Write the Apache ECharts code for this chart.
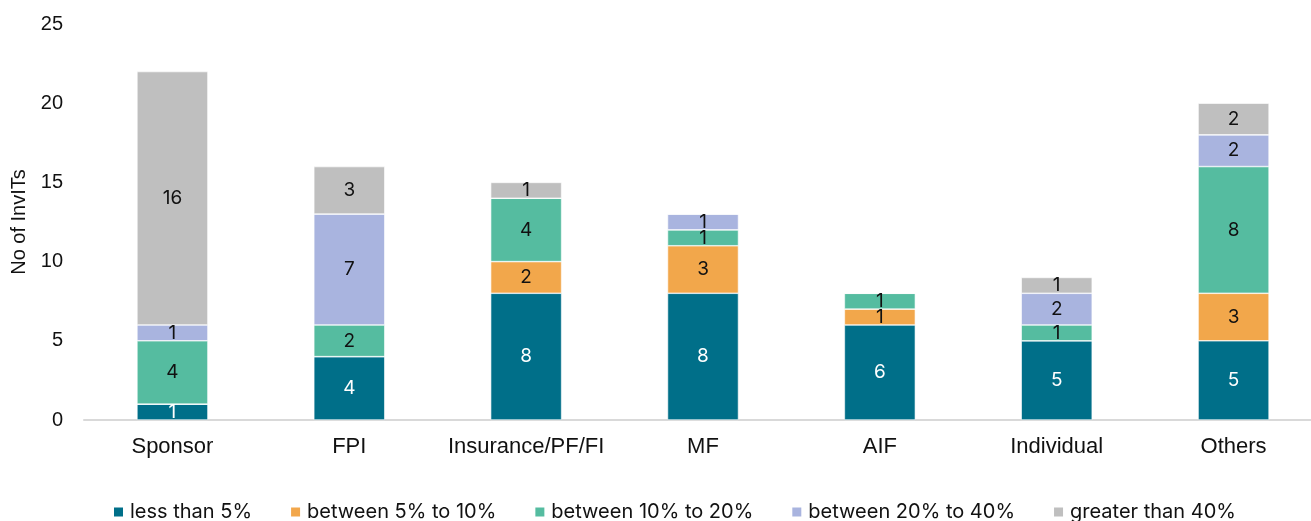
<!DOCTYPE html>
<html>
<head>
<meta charset="utf-8">
<script src="https://cdn.jsdelivr.net/npm/echarts@6/dist/echarts.min.js"></script>
<style>
  html, body { margin: 0; padding: 0; background: #fff; }
  #chart { width: 1311px; height: 521px; }
</style>
</head>
<body>
<div id="chart"></div>
<script>
// Investor categories on the x axis
const categories = ['Sponsor', 'FPI', 'Insurance/PF/FI', 'MF', 'AIF', 'Individual', 'Others'];

// Number of InvITs per holding bucket, one array per stacked series
const lessThan5   = [1, 4, 8, 8, 6, 5, 5];
const from5to10   = [0, 0, 2, 3, 1, 0, 3];
const from10to20  = [4, 2, 4, 1, 1, 1, 8];
const from20to40  = [1, 7, 0, 1, 0, 2, 2];
const above40     = [16, 3, 1, 0, 0, 1, 2];

const seriesNames = ['less than 5%', 'between 5% to 10%', 'between 10% to 20%', 'between 20% to 40%', 'greater than 40%'];
const seriesData = [lessThan5, from5to10, from10to20, from20to40, above40];
const colors = ['#006F89', '#F2A74B', '#55BCA0', '#A9B4DF', '#BFBFBF'];
const labelColors = ['#ffffff', '#111111', '#111111', '#111111', '#111111'];

const AXIS_FONT = '"Liberation Sans", Arial, sans-serif';
const MARK_FONT = 'Inter, "DejaVu Sans", sans-serif';

const chart = echarts.init(document.getElementById('chart'));

chart.setOption({
  animation: false,
  color: colors,
  grid: { left: 84, width: 1238, top: 24, bottom: 101, containLabel: false, outerBoundsMode: 'none' },
  legend: {
    bottom: -6,
    left: 107,
    itemWidth: 11,
    itemHeight: 11,
    itemGap: 37,
    icon: 'rect',
    textStyle: { fontSize: 20, color: '#111', fontFamily: MARK_FONT, padding: [0, 0, 0, 1] },
    data: seriesNames
  },
  xAxis: {
    type: 'category',
    data: categories,
    axisLine: { lineStyle: { color: '#D9D9D9', width: 2 } },
    axisTick: { show: false },
    axisLabel: { interval: 0, fontSize: 22, color: '#111', margin: 16, fontFamily: AXIS_FONT }
  },
  yAxis: {
    type: 'value',
    min: 0,
    max: 25,
    interval: 5,
    name: 'No of InvITs',
    nameLocation: 'middle',
    nameGap: 55,
    nameTextStyle: { fontSize: 20, color: '#111', fontFamily: AXIS_FONT },
    splitLine: { show: false },
    axisLine: { show: false },
    axisTick: { show: false },
    axisLabel: { fontSize: 20, color: '#111', margin: 21, fontFamily: AXIS_FONT }
  },
  series: seriesData.map((d, i) => ({
    name: seriesNames[i],
    type: 'bar',
    stack: 'total',
    barWidth: 71,
    data: d,
    itemStyle: { color: colors[i], borderColor: '#ffffff', borderWidth: 0.6 },
    label: {
      show: true,
      position: 'inside',
      fontSize: 19,
      color: labelColors[i],
      fontFamily: MARK_FONT,
      formatter: p => (p.value ? String(p.value) : '')
    }
  }))
});
</script>
</body>
</html>
